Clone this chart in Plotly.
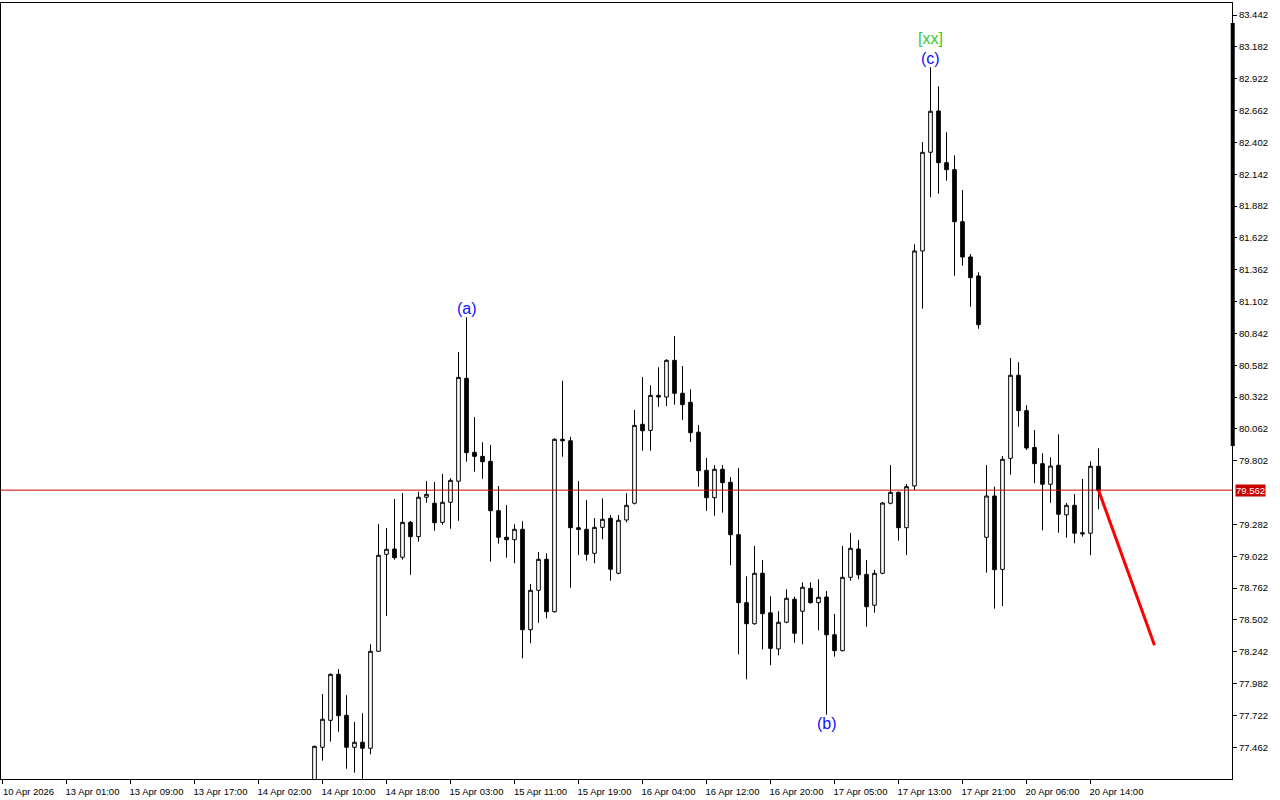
import plotly.graph_objects as go

# ---- data (H1 bars; index = bar position on the time axis) ----
bar_index = list(range(39, 138))

opens = [77.150, 77.462, 77.682, 78.058, 77.723, 77.462, 77.503, 77.454, 78.246, 79.038,
         79.081, 79.014, 79.299, 79.182, 79.504, 79.455, 79.299, 79.463, 79.635, 80.475,
         79.871, 79.838, 79.797, 79.394, 79.177, 79.157, 79.242, 78.422, 78.744, 78.997,
         78.569, 79.977, 79.965, 79.255, 79.242, 79.046, 79.258, 79.332, 78.883, 79.318,
         79.455, 80.100, 80.050, 80.336, 80.322, 80.622, 80.353, 80.279, 80.035, 79.724,
         79.500, 79.732, 79.626, 79.198, 78.643, 78.471, 78.883, 78.560, 78.265, 78.483,
         78.671, 78.573, 78.760, 78.643, 78.689, 78.381, 78.251, 78.850, 79.081, 78.874,
         78.622, 78.883, 79.455, 79.544, 79.255, 79.596, 81.515, 82.321, 82.658, 82.236,
         82.179, 81.754, 81.466, 81.311, 79.177, 79.514, 78.915, 79.822, 80.500, 80.211,
         79.910, 79.778, 79.610, 79.765, 79.360, 79.438, 79.214, 79.210, 79.757]
highs = [77.475, 77.897, 78.065, 78.101, 77.887, 77.669, 77.740, 78.303, 79.285, 79.253,
         79.490, 79.539, 79.310, 79.549, 79.637, 79.628, 79.694, 79.659, 80.690, 80.973,
         80.159, 79.953, 79.931, 79.596, 79.441, 79.283, 79.308, 78.796, 79.057, 79.046,
         79.985, 80.456, 79.998, 79.637, 79.481, 79.334, 79.495, 79.359, 79.359, 79.536,
         80.216, 80.486, 80.418, 80.565, 80.630, 80.821, 80.576, 80.385, 80.094, 79.824,
         79.767, 79.767, 79.669, 79.743, 78.858, 79.106, 78.992, 78.695, 78.573, 78.752,
         78.692, 78.809, 78.809, 78.834, 78.738, 78.551, 79.106, 79.212, 79.155, 78.992,
         78.910, 79.465, 79.767, 79.549, 79.612, 81.570, 82.405, 83.015, 82.860, 82.484,
         82.296, 82.013, 81.490, 81.341, 79.767, 79.590, 79.841, 80.641, 80.606, 80.255,
         80.053, 79.863, 79.830, 80.018, 79.457, 79.530, 79.653, 79.797, 79.904]
lows = [77.050, 77.353, 77.508, 77.589, 77.287, 77.255, 77.150, 77.405, 78.240, 78.534,
        78.994, 78.994, 78.871, 79.141, 79.459, 79.231, 79.280, 79.247, 79.312, 79.794,
        79.713, 79.655, 78.978, 79.125, 79.010, 78.965, 78.189, 78.311, 78.479, 78.515,
        78.561, 79.835, 78.765, 79.032, 78.986, 78.965, 79.161, 78.822, 78.875, 79.299,
        79.445, 79.884, 79.884, 80.243, 80.249, 80.260, 80.135, 79.955, 79.590, 79.392,
        79.353, 79.378, 78.948, 78.221, 78.017, 78.463, 78.262, 78.132, 78.213, 78.475,
        78.316, 78.303, 78.635, 78.417, 77.728, 78.202, 78.245, 78.822, 78.834, 78.447,
        78.561, 78.875, 79.446, 79.149, 79.032, 79.563, 81.044, 81.953, 81.983, 82.089,
        81.313, 81.395, 81.060, 80.880, 78.888, 78.594, 78.616, 79.688, 80.080, 79.890,
        79.618, 79.234, 79.459, 79.214, 79.174, 79.128, 79.182, 79.030, 79.406]
closes = [77.470, 77.691, 78.058, 77.720, 77.462, 77.503, 77.454, 78.246, 79.030, 79.079,
          79.010, 79.299, 79.182, 79.504, 79.528, 79.296, 79.463, 79.642, 80.483, 79.868,
          79.838, 79.794, 79.394, 79.177, 79.157, 79.242, 78.422, 78.744, 78.997, 78.569,
          79.977, 79.965, 79.255, 79.240, 79.038, 79.258, 79.324, 78.916, 79.316, 79.438,
          80.091, 80.047, 80.336, 80.322, 80.622, 80.353, 80.260, 80.031, 79.721, 79.500,
          79.732, 79.623, 79.198, 78.643, 78.471, 78.883, 78.553, 78.270, 78.483, 78.679,
          78.393, 78.769, 78.643, 78.687, 78.381, 78.251, 78.850, 79.087, 78.871, 78.610,
          78.883, 79.457, 79.544, 79.255, 79.590, 81.515, 82.321, 82.656, 82.236, 82.179,
          81.754, 81.466, 81.297, 80.913, 79.514, 78.912, 79.814, 80.500, 80.211, 79.906,
          79.778, 79.610, 79.759, 79.365, 79.438, 79.210, 79.205, 79.757, 79.562]

# time-axis labels (every 8 bars)
time_tick_index = [0, 8, 16, 24, 32, 40, 48, 56, 64, 72, 80, 88, 96, 104, 112, 120, 128, 136]
time_tick_labels = ["10 Apr 2026", "13 Apr 01:00", "13 Apr 09:00", "13 Apr 17:00", "14 Apr 02:00",
                    "14 Apr 10:00", "14 Apr 18:00", "15 Apr 03:00", "15 Apr 11:00", "15 Apr 19:00",
                    "16 Apr 04:00", "16 Apr 12:00", "16 Apr 20:00", "17 Apr 05:00", "17 Apr 13:00",
                    "17 Apr 21:00", "20 Apr 06:00", "20 Apr 14:00"]

# price-axis labels
price_ticks = [83.442, 83.182, 82.922, 82.662, 82.402, 82.142, 81.882, 81.622, 81.362, 81.102,
               80.842, 80.582, 80.322, 80.062, 79.802, 79.282, 79.022, 78.762, 78.502, 78.242,
               77.982, 77.722, 77.462]

bid_price = 79.562

# wave labels: text, bar index, side
wave_labels = ["(a)", "(b)", "(c)"]
wave_bars = [58, 103, 116]
wave_sides = ["high", "low", "high"]
degree_label = "[xx]"
degree_bar = 116

# projected path (bar index, price)
proj_x = [137, 144]
proj_y = [79.562, 78.295]

FONT = "Liberation Sans"

fig = go.Figure()
fig.add_trace(go.Candlestick(
    x=bar_index, open=opens, high=highs, low=lows, close=closes,
    increasing=dict(fillcolor="white", line=dict(color="black", width=1)),
    decreasing=dict(fillcolor="black", line=dict(color="black", width=1)),
    whiskerwidth=0, showlegend=False, hoverinfo="skip",
))
fig.add_trace(go.Scatter(
    x=proj_x, y=proj_y, mode="lines",
    line=dict(color="#FF0000", width=3), showlegend=False, hoverinfo="skip",
))

# bid line
fig.add_shape(type="line", xref="paper", x0=0, x1=1, yref="y", y0=bid_price, y1=bid_price,
              line=dict(color="#D00000", width=1))
# thick bar on price scale
fig.add_shape(type="line", xref="paper", x0=1.0006, x1=1.0006, yref="paper", y0=0.4291, y1=0.9742,
              line=dict(color="black", width=4))

annotations = []
for txt, b, side in zip(wave_labels, wave_bars, wave_sides):
    k = bar_index.index(b)
    yv = highs[k] if side == "high" else lows[k]
    annotations.append(dict(x=b, y=yv, xref="x", yref="y", text=txt, showarrow=False,
                            yanchor="middle", xanchor="center",
                            yshift=9 if side == "high" else -9,
                            font=dict(family=FONT, size=16, color="#1010FF")))
k = bar_index.index(degree_bar)
annotations.append(dict(x=degree_bar, y=highs[k], xref="x", yref="y", text=degree_label,
                        showarrow=False, yanchor="middle", xanchor="center", yshift=29,
                        font=dict(family=FONT, size=16, color="#33CC33")))
annotations.append(dict(x=1, y=bid_price, xref="paper", yref="y", text=f"{bid_price:.3f}",
                        showarrow=False, xanchor="left", yanchor="middle", xshift=3,
                        bgcolor="#C80000", borderpad=0,
                        font=dict(family=FONT, size=9.5, color="white")))

fig.update_layout(
    width=1280, height=800,
    margin=dict(l=1, r=48, t=3, b=21),
    paper_bgcolor="white", plot_bgcolor="white",
    boxgap=0.35,
    annotations=annotations,
    font=dict(family=FONT, size=9.5, color="black"),
    xaxis=dict(
        range=[-0.1875, 153.6875], showgrid=False, zeroline=False,
        rangeslider=dict(visible=False),
        showline=True, mirror=True, linecolor="black", linewidth=1,
        ticks="outside", ticklen=4, tickcolor="black", tickwidth=1,
        tickvals=time_tick_index, ticktext=time_tick_labels,
        ticklabelshift=26, tickfont=dict(family=FONT, size=9.5, color="black"),
        fixedrange=True,
    ),
    yaxis=dict(
        range=[77.203, 83.540], side="right", showgrid=False, zeroline=False,
        showline=True, mirror=True, linecolor="black", linewidth=1,
        ticks="outside", ticklen=4, tickcolor="black", tickwidth=1,
        tickvals=price_ticks, ticktext=[f"{v:.3f}" for v in price_ticks],
        tickfont=dict(family=FONT, size=9.5, color="black"),
        fixedrange=True,
    ),
)

fig.write_html(
    "out.html",
    config={"displayModeBar": False},
    post_script="document.body.style.margin='0';document.body.style.overflow='hidden';",
)
